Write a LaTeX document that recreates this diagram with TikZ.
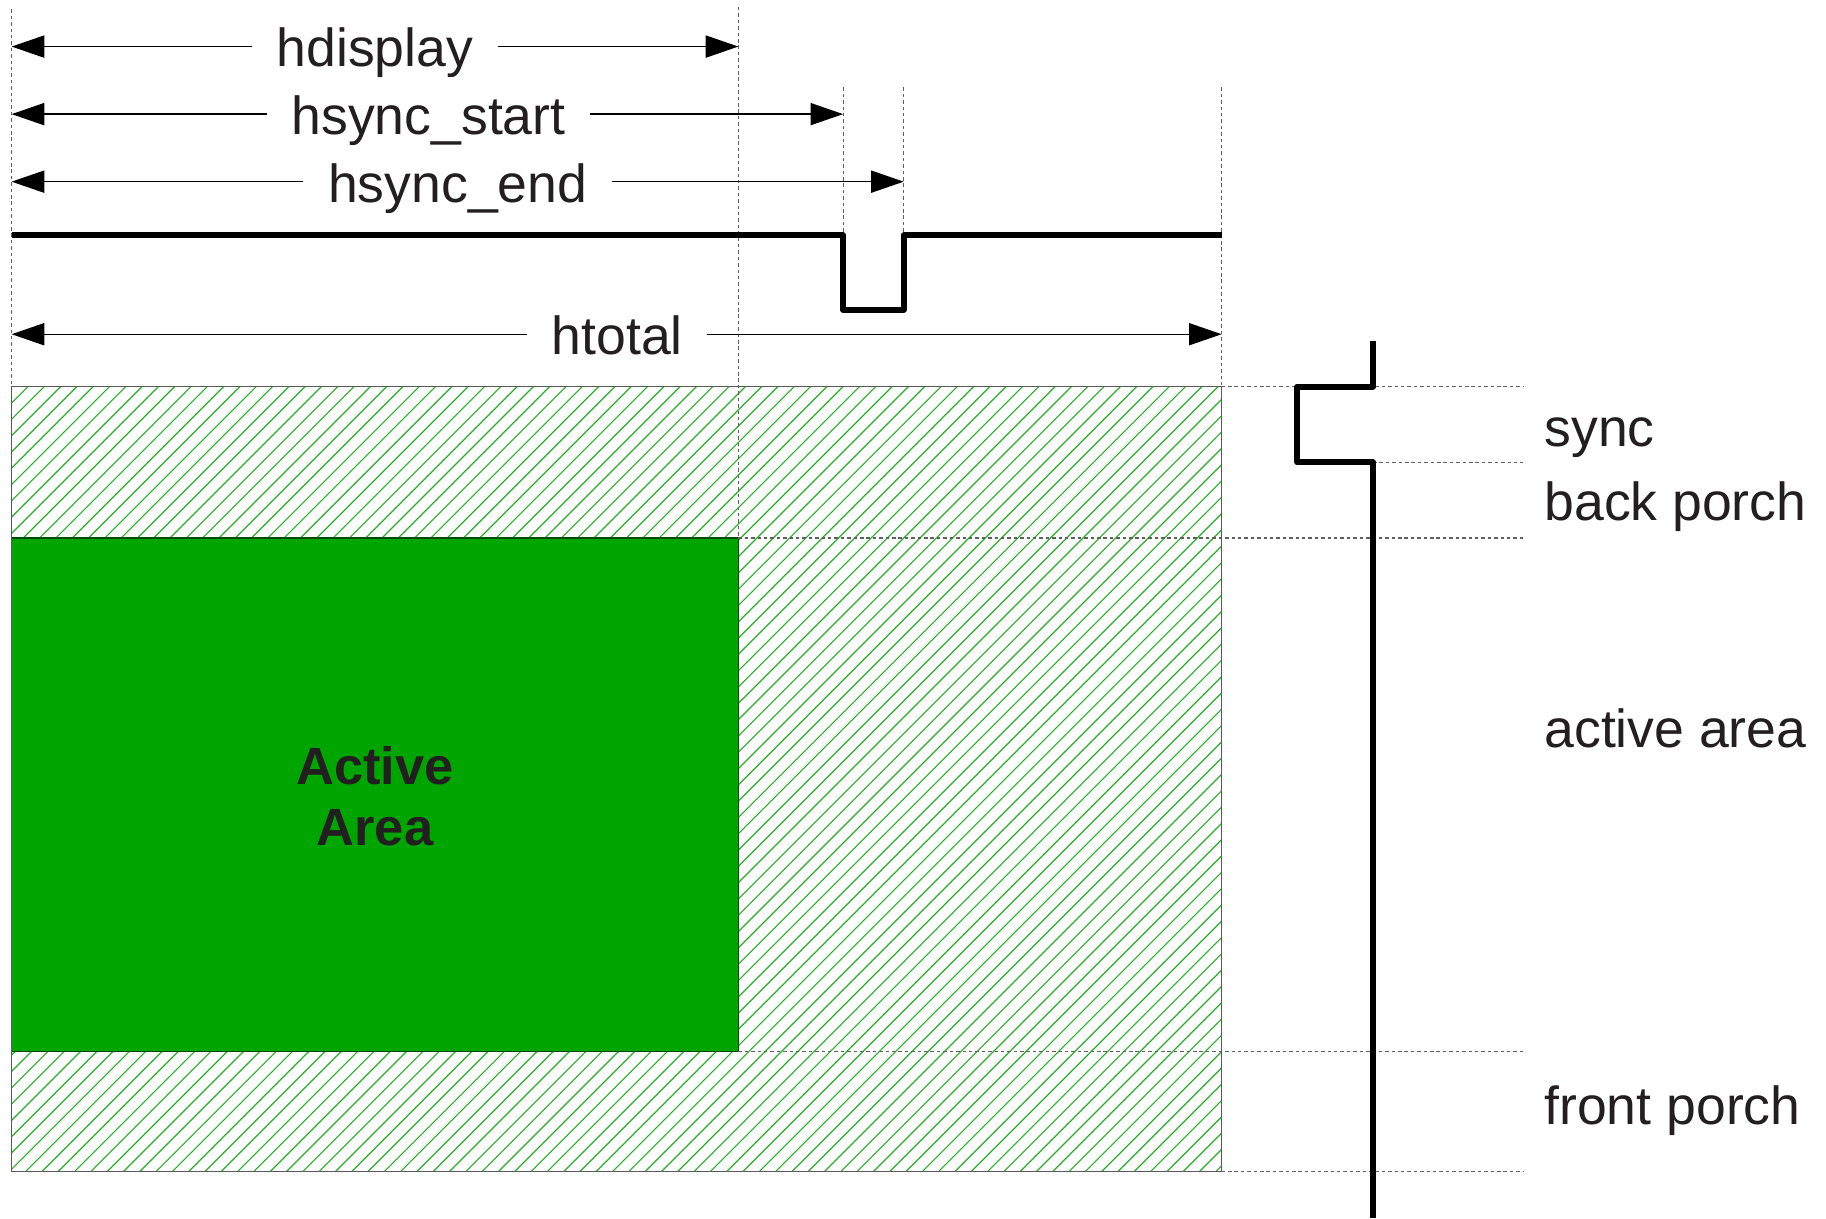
\documentclass[tikz,border=0pt]{standalone}
\usepackage{fontspec}
\setmainfont{Liberation Sans}
\usetikzlibrary{arrows.meta}
\definecolor{activegreen}{RGB}{0,165,0}
\definecolor{hatchgreen}{RGB}{40,175,40}
\definecolor{guidegray}{RGB}{95,95,95}
\definecolor{inkblack}{RGB}{35,31,32}
\definecolor{framegray}{RGB}{90,90,90}

\begin{document}
\begin{tikzpicture}[x=1pt,y=-1pt,
  dimlabel/.style={font=\fontsize{46}{55}\selectfont, text=inkblack,
    inner xsep=21pt, inner ysep=0pt, text height=35pt, text depth=0pt},
  dimarrow/.style={line width=1.2pt, -{Triangle[length=28pt,width=19pt]}},
  guide/.style={guidegray, line width=1pt, dash pattern=on 3pt off 2.5pt},
  signal/.style={line width=5pt, line join=round},
  sidelabel/.style={font=\fontsize{46}{55}\selectfont, text=inkblack,
    anchor=base west, inner sep=0pt},
  boldlabel/.style={font=\fontsize{45}{52}\selectfont\bfseries, text=inkblack,
    anchor=base, inner sep=0pt},
  frameline/.style={draw=framegray, line width=1pt},
  hatchline/.style={hatchgreen, line width=1pt}
]
\useasboundingbox (0,0) rectangle (1568,1046);

% blanking region: diagonal hatch inside the total frame
\begin{scope}
  \clip (10,332) rectangle (1049,1006);
  \foreach \i in {0,...,124}
    \draw[hatchline] ({-664+14*\i},1006) -- ++(674,-674);
\end{scope}

% visible picture
\fill[activegreen, draw=black!55!activegreen, line width=1pt] (10,462) rectangle (634,903);
\draw[frameline] (10,332) rectangle (1049,1006);

% vertical guides
\draw[guide] (10,8) -- (10,332);
\draw[guide] (634,6) -- (634,462);
\draw[guide] (724,75) -- (724,202);
\draw[guide] (776,75) -- (776,202);
\draw[guide] (1049,75) -- (1049,332);

% horizontal guides
\draw[guide] (1049,332) -- (1308,332);
\draw[guide] (1179,397) -- (1308,397);
\draw[guide] (634,462) -- (1308,462);
\draw[guide] (634,903) -- (1308,903);
\draw[guide] (1049,1006) -- (1308,1006);

% horizontal sync signal
\draw[signal] (10,202) -- (724,202) -- (724,266) -- (776,266) -- (776,202) -- (1049,202);
% vertical sync signal
\draw[signal] (1179,293) -- (1179,332) -- (1114,332) -- (1114,397) -- (1179,397) -- (1179,1046);

% dimension arrows
\coordinate (hdispL) at (10,40);   \coordinate (hdispR) at (634,40);
\coordinate (hsstL)  at (10,98);   \coordinate (hsstR)  at (724,98);
\coordinate (hsendL) at (10,156);  \coordinate (hsendR) at (776,156);
\coordinate (htotL)  at (10,287);  \coordinate (htotR)  at (1049,287);

\node[dimlabel] (hdisp) at (322,40)  {hdisplay};
\node[dimlabel] (hsst)  at (368,98)  {hsync\_start};
\node[dimlabel] (hsend) at (393,156) {hsync\_end};
\node[dimlabel] (htot)  at (530,287) {htotal};

\draw[dimarrow] (hdisp.west) -- (hdispL);
\draw[dimarrow] (hdisp.east) -- (hdispR);
\draw[dimarrow] (hsst.west)  -- (hsstL);
\draw[dimarrow] (hsst.east)  -- (hsstR);
\draw[dimarrow] (hsend.west) -- (hsendL);
\draw[dimarrow] (hsend.east) -- (hsendR);
\draw[dimarrow] (htot.west)  -- (htotL);
\draw[dimarrow] (htot.east)  -- (htotR);

% labels
\node[boldlabel] (act1) at (322,674) {Active};
\node[boldlabel] (act2) at (322,726) {Area};

\node[sidelabel] (lsync)  at (1326,383) {sync};
\node[sidelabel] (lback)  at (1326,447) {back porch};
\node[sidelabel] (lact)   at (1326,642) {active area};
\node[sidelabel] (lfront) at (1326,966) {front porch};
\end{tikzpicture}
\end{document}
